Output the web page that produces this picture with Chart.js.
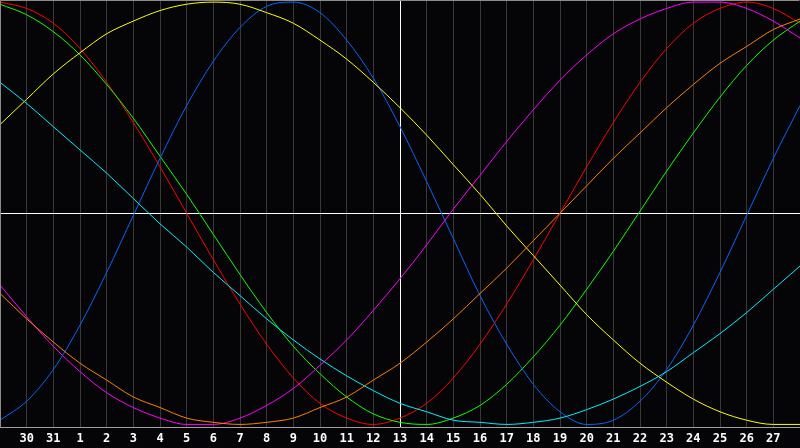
<!DOCTYPE html>
<html>
<head>
<meta charset="utf-8">
<script src="https://cdn.jsdelivr.net/npm/chart.js@4/dist/chart.umd.min.js"></script>
<style>
  html, body { margin: 0; padding: 0; background: #050507; }
  canvas { display: block; }
</style>
</head>
<body>
<canvas id="myChart" width="800" height="448"></canvas>
<script>
// days shown, the first and last sit on the chart edges without a label
const days = ['29','30','31','1','2','3','4','5','6','7','8','9','10','11','12','13','14','15','16','17','18','19','20','21','22','23','24','25','26','27','28']
const today = '13'

const blue = [-0.98,-0.89,-0.74,-0.53,-0.28,-0.01,0.26,0.51,0.72,0.88,0.98,1.00,0.95,0.82,0.64,0.41,0.15,-0.12,-0.39,-0.62,-0.81,-0.94,-1.00,-0.98,-0.89,-0.74,-0.53,-0.28,-0.01,0.26,0.51]
const red = [1.00,0.97,0.90,0.78,0.62,0.43,0.22,0.00,-0.22,-0.43,-0.62,-0.78,-0.90,-0.97,-1.00,-0.97,-0.90,-0.78,-0.62,-0.43,-0.22,0.00,0.22,0.43,0.62,0.78,0.90,0.97,1.00,0.97,0.90]
const green = [0.99,0.94,0.86,0.75,0.61,0.45,0.27,0.09,-0.10,-0.29,-0.47,-0.63,-0.76,-0.87,-0.95,-0.99,-1.00,-0.97,-0.91,-0.81,-0.68,-0.53,-0.36,-0.18,0.01,0.20,0.38,0.55,0.70,0.82,0.91]
const magenta = [-0.34,-0.49,-0.63,-0.75,-0.85,-0.92,-0.97,-1.00,-1.00,-0.97,-0.91,-0.83,-0.72,-0.60,-0.46,-0.31,-0.15,0.02,0.18,0.34,0.49,0.63,0.75,0.85,0.92,0.97,1.00,1.00,0.97,0.91,0.83]
const yellow = [0.42,0.54,0.66,0.76,0.85,0.91,0.96,0.99,1.00,0.99,0.95,0.90,0.82,0.73,0.62,0.50,0.37,0.23,0.09,-0.06,-0.20,-0.34,-0.48,-0.60,-0.71,-0.80,-0.88,-0.94,-0.98,-1.00,-1.00]
const orange = [-0.38,-0.50,-0.61,-0.71,-0.79,-0.87,-0.92,-0.97,-0.99,-1.00,-0.99,-0.97,-0.92,-0.87,-0.79,-0.71,-0.61,-0.50,-0.38,-0.26,-0.13,0.00,0.13,0.26,0.38,0.50,0.61,0.71,0.79,0.87,0.92]
const cyan = [0.62,0.52,0.41,0.30,0.19,0.07,-0.05,-0.16,-0.28,-0.39,-0.50,-0.60,-0.69,-0.77,-0.84,-0.90,-0.94,-0.98,-0.99,-1.00,-0.99,-0.97,-0.93,-0.88,-0.82,-0.75,-0.66,-0.57,-0.47,-0.36,-0.25]

const series = [
    { data: orange, color: '#ff8000' },
    { data: cyan, color: '#00f0ff' },
    { data: magenta, color: '#ff00ff' },
    { data: yellow, color: '#ffff00' },
    { data: blue, color: '#0a64ff' },
    { data: green, color: '#10ff00' },
    { data: red, color: '#ff0000' }
]

// thin grey frame round the plot
const frame = {
    id: 'frame',
    afterDraw(chart) {
        const { ctx, chartArea: a } = chart
        ctx.save()
        ctx.strokeStyle = '#8c8c8c'
        ctx.lineWidth = 1
        ctx.beginPath()
        ctx.moveTo(a.left + 0.5, a.bottom)
        ctx.lineTo(a.left + 0.5, a.top + 0.5)
        ctx.lineTo(a.right - 0.5, a.top + 0.5)
        ctx.stroke()
        ctx.restore()
    }
}

const ctx = document.getElementById('myChart')

new Chart(ctx, {
    type: 'line',
    data: {
        labels: days,
        datasets: series.map(s => ({
            data: s.data,
            borderColor: s.color,
            borderWidth: 1,
            pointRadius: 0,
            pointHoverRadius: 0,
            pointHitRadius: 0,
            pointBorderWidth: 0,
            cubicInterpolationMode: 'monotone',
            fill: false
        }))
    },
    options: {
        responsive: false,
        animation: false,
        devicePixelRatio: 1,
        layout: { autoPadding: false, padding: { left: 0, right: 0, top: 0, bottom: 2 } },
        plugins: {
            legend: { display: false },
            tooltip: { enabled: false }
        },
        scales: {
            x: {
                offset: false,
                grid: {
                    drawTicks: true,
                    tickLength: 4,
                    tickColor: 'rgba(0,0,0,0)',
                    color: c => (c.tick && days[c.index] === today) ? '#ffffff' : '#383838',
                    lineWidth: 1
                },
                border: { display: true, color: '#a0a0a0' },
                ticks: {
                    autoSkip: false,
                    maxRotation: 0,
                    padding: 0,
                    color: '#ffffff',
                    font: { family: 'DejaVu Sans Mono', size: 12, weight: 'bold' },
                    callback: (v, i) => (i === 0 || i === days.length - 1) ? '' : days[i]
                }
            },
            y: {
                min: -1.015,
                max: 1.01,
                ticks: { display: false, stepSize: 1 },
                grid: {
                    drawTicks: false,
                    color: c => (c.tick && c.tick.value === 0) ? '#ffffff' : 'rgba(0,0,0,0)'
                },
                border: { display: false }
            }
        }
    },
    plugins: [frame]
})
</script>
</body>
</html>
